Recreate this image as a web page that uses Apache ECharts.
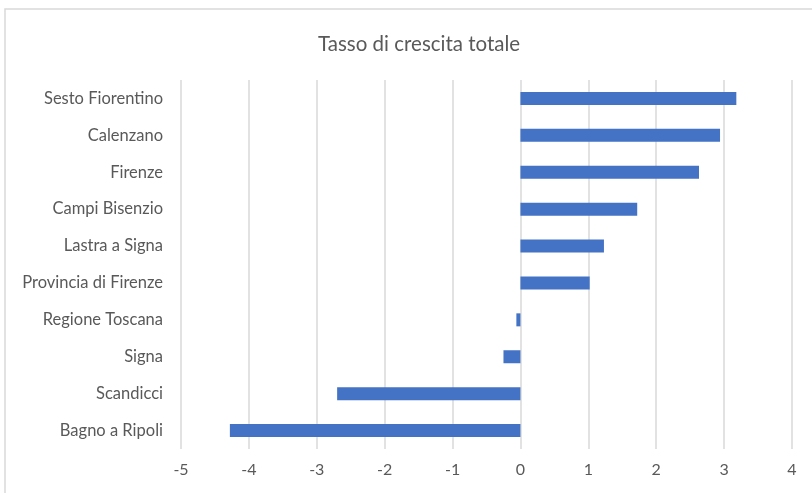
<!DOCTYPE html>
<html>
<head>
<meta charset="utf-8">
<script src="https://cdn.jsdelivr.net/npm/echarts@6/dist/echarts.min.js"></script>
<style>
  html, body { margin: 0; padding: 0; background: #fff; }
  #chart { width: 812px; height: 493px; }
</style>
</head>
<body>
<div id="chart"></div>
<script>
// Comuni dell'area fiorentina, dal basso verso l'alto
const categories = [
  'Bagno a Ripoli', 'Scandicci', 'Signa', 'Regione Toscana',
  'Provincia di Firenze', 'Lastra a Signa', 'Campi Bisenzio',
  'Firenze', 'Calenzano', 'Sesto Fiorentino'
];
const growthRates = [-4.28, -2.70, -0.25, -0.06, 1.02, 1.23, 1.72, 2.63, 2.94, 3.18];
const xTicks = [-5, -4, -3, -2, -1, 0, 1, 2, 3, 4];

const font = 'Lato, "Open Sans", sans-serif';
const chart = echarts.init(document.getElementById('chart'), null, { renderer: 'canvas' });

chart.setOption({
  animation: false,
  backgroundColor: '#fff',
  title: {
    text: 'Tasso di crescita totale',
    left: 313,
    top: 29,
    textStyle: { color: '#595959', fontSize: 20.5, fontWeight: 'normal', fontFamily: font }
  },
  graphic: [{
    type: 'rect',
    shape: { x: 5, y: 9, width: 900, height: 600 },
    style: { fill: 'none', stroke: '#d9d9d9', lineWidth: 1.5 },
    silent: true
  }],
  grid: { left: 181, right: 20, top: 80, bottom: 44, containLabel: false },
  xAxis: {
    type: 'value',
    min: xTicks[0],
    max: xTicks[xTicks.length - 1],
    interval: 1,
    axisLine: { show: false },
    axisTick: { show: false },
    axisLabel: { color: '#595959', fontSize: 16, fontFamily: font, margin: 13 },
    splitLine: { lineStyle: { color: '#d9d9d9', width: 1.5 } }
  },
  yAxis: {
    type: 'category',
    data: categories,
    axisLine: { show: false },
    axisTick: { show: false },
    axisLabel: { color: '#595959', fontSize: 16.5, fontFamily: font, margin: 18 },
    splitLine: { show: false }
  },
  series: [{
    type: 'bar',
    data: growthRates,
    barWidth: 13,
    itemStyle: { color: '#4472c4' }
  }]
});
</script>
</body>
</html>
